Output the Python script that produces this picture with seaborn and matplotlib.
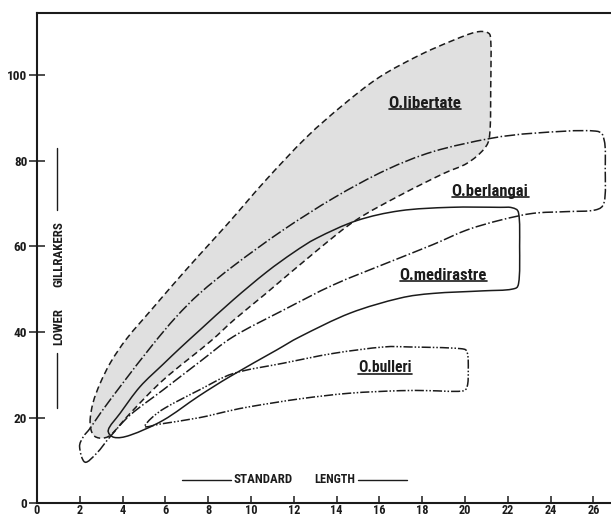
import numpy as np
import matplotlib
matplotlib.use("Agg")
import matplotlib.pyplot as plt
import seaborn as sns
from matplotlib import font_manager
from matplotlib.font_manager import FontProperties
from matplotlib.path import Path
from matplotlib.patches import PathPatch
from matplotlib.lines import Line2D
from matplotlib.transforms import IdentityTransform

# ---- axis ticks -------------------------------------------------------
x_ticks = list(range(0, 27, 2))
y_ticks = [0, 20, 40, 60, 80, 100]

# ---- envelope outlines (standard length, lower gillraker count) -------
libertate_x = [2.48, 2.62, 2.95, 3.45, 4.20, 5.40, 6.40, 7.50, 8.90, 10.70,
               12.60, 14.30, 16.00, 17.90, 19.40, 20.50, 21.05, 21.20, 21.20,
               21.15, 20.90, 20.10, 19.00, 17.00, 14.90, 13.10, 10.70, 9.20,
               8.10, 5.90, 4.35, 3.45, 3.00, 2.62]
libertate_y = [19.0, 23.5, 28.0, 33.0, 38.5, 45.5, 51.3, 57.5, 65.2, 75.5,
               85.5, 93.0, 99.5, 104.7, 108.0, 110.0, 109.9, 108.3, 97.0,
               86.0, 82.8, 79.4, 77.0, 72.0, 66.1, 59.1, 49.0, 42.8,
               37.8, 28.8, 21.0, 16.0, 15.2, 16.0]

berlangai_x = [2.24, 2.79, 3.41, 4.35, 5.90, 7.62, 9.17, 11.51, 13.85, 16.40,
               18.50, 20.08, 21.64, 23.18, 24.75, 26.10, 26.50, 26.55, 26.50,
               26.10, 23.20, 21.20, 18.50, 16.30, 13.90, 11.50, 9.20, 7.60,
               6.50, 5.40, 4.00, 3.00, 2.48, 2.16, 1.99]
berlangai_y = [9.6, 11.7, 15.5, 20.6, 26.5, 33.1, 38.9, 45.1, 51.0, 56.2,
               60.4, 63.8, 66.1, 67.7, 68.1, 68.5, 70.3, 78.0, 84.8,
               86.9, 86.4, 85.2, 82.1, 77.8, 71.4, 63.8, 55.5, 49.0,
               43.5, 37.0, 28.0, 21.3, 17.5, 15.5, 13.2]

medirastre_x = [3.33, 3.60, 4.35, 5.90, 7.55, 9.02, 11.20, 12.29, 14.63, 16.96,
                18.50, 20.84, 22.20, 22.50, 22.55, 22.50, 22.20, 21.64, 19.30,
                16.96, 14.94, 13.07, 12.00, 10.73, 9.17, 7.62, 6.70, 5.90,
                4.81, 3.88]
medirastre_y = [17.1, 15.4, 15.9, 19.4, 25.0, 29.6, 35.8, 38.9, 44.4, 47.9,
                49.0, 49.6, 50.0, 51.3, 60.0, 67.8, 69.0, 69.1, 69.1,
                68.3, 66.0, 61.9, 58.6, 54.0, 47.5, 40.5, 36.3, 32.5,
                27.2, 21.0]

bulleri_x = [5.05, 5.75, 7.60, 9.00, 10.00, 12.30, 14.60, 17.00, 18.30, 19.85,
             20.10, 20.15, 20.10, 19.80, 17.40, 16.20, 13.85, 11.50, 9.17,
             7.60, 6.00, 5.35]
bulleri_y = [17.9, 18.5, 20.0, 21.6, 22.6, 24.4, 25.7, 26.3, 26.3, 26.2,
             27.3, 31.0, 35.2, 36.1, 36.5, 36.5, 35.0, 32.7, 30.3,
             26.5, 22.3, 19.9]

# ---- species names and where they sit ---------------------------------
species = ["O.libertate", "O.berlangai", "O.medirastre", "O.bulleri"]
label_x = [18.13, 21.17, 18.99, 16.26]
label_y = [93.4, 72.8, 53.3, 31.6]
label_width_px = [73, 77, 87, 54]

INK = "#1b1b1b"
styles = {
    "O.libertate": dict(ls=(0, (4.2, 2.4)), fill="#e0e0e0"),
    "O.berlangai": dict(ls=(0, (7.0, 1.6, 1.0, 1.6)), fill=None),
    "O.medirastre": dict(ls="-", fill=None),
    "O.bulleri": dict(ls=(0, (6.0, 1.3, 1.0, 1.3, 1.0, 1.3)), fill=None),
}
outlines = {
    "O.libertate": (libertate_x, libertate_y),
    "O.berlangai": (berlangai_x, berlangai_y),
    "O.medirastre": (medirastre_x, medirastre_y),
    "O.bulleri": (bulleri_x, bulleri_y),
}


def closed_smooth_path(ax, xs, ys):
    """Closed cubic-Bezier path through the given vertices (Catmull-Rom style)."""
    P = np.column_stack([xs, ys]).astype(float)
    n = len(P)
    D = ax.transData.transform(P)
    dt = np.sqrt(np.linalg.norm(np.roll(D, -1, axis=0) - D, axis=1)) + 1e-9
    verts = [P[0]]
    codes = [Path.MOVETO]
    for i in range(n):
        i0, i1, i2, i3 = (i - 1) % n, i, (i + 1) % n, (i + 2) % n
        m1 = (P[i2] - P[i0]) / (dt[i0] + dt[i1])
        m2 = (P[i3] - P[i1]) / (dt[i1] + dt[i2])
        verts += [P[i1] + m1 * dt[i1] / 3.0, P[i2] - m2 * dt[i1] / 3.0, P[i2]]
        codes += [Path.CURVE4] * 3
    return Path(verts, codes)


def pick_lettering():
    """Prefer a narrow face for the stencil-style lettering."""
    for fam in ["Roboto Condensed", "Liberation Sans Narrow",
                "Open Sans Condensed", "Noto Sans Condensed", "Arial Narrow"]:
        try:
            font_manager.findfont(FontProperties(family=fam, weight="bold"),
                                  fallback_to_default=False)
            return [fam, "DejaVu Sans"], "normal"
        except ValueError:
            pass
    path = font_manager.findfont(FontProperties(family="DejaVu Sans",
                                                stretch="condensed",
                                                weight="bold"))
    if "Condensed" in path:
        return ["DejaVu Sans"], "condensed"
    return ["DejaVu Sans"], "normal"


sns.set_theme(style="ticks")
FAMILY, STRETCH = pick_lettering()
plt.rcParams["font.family"] = FAMILY
plt.rcParams["font.stretch"] = STRETCH

fig = plt.figure(figsize=(6.11, 5.20), dpi=100)
fig.patch.set_facecolor("white")
ax = fig.add_axes([37 / 611, 16.7 / 520, 1 - 37 / 611, 490 / 520])
ax.set_facecolor("white")
ax.set_xlim(0, 26.82)
ax.set_ylim(0, 114.4)

for name in species:
    xs, ys = outlines[name]
    st = styles[name]
    path = closed_smooth_path(ax, xs, ys)
    if st["fill"]:
        ax.add_patch(PathPatch(path, facecolor=st["fill"], edgecolor="none",
                               lw=0, zorder=1))
    ax.add_patch(PathPatch(path, facecolor="none", edgecolor=INK, lw=1.1,
                           linestyle=st["ls"], zorder=3))

fitted = []  # (text, target length in px, vertical?)
name_texts = []
for name, lx, ly, w in zip(species, label_x, label_y, label_width_px):
    t = ax.text(lx, ly, name, ha="center", va="center", fontsize=10,
                fontweight="bold", color=INK, zorder=4)
    name_texts.append(t)
    fitted.append((t, w, False))

# axis titles, drawn inside the frame with bars on each side
axis_font = dict(fontsize=8, fontweight="bold", color=INK)
fitted.append((ax.text(10.58, 5.44, "STANDARD", ha="center", va="center",
                       **axis_font), 59, False))
fitted.append((ax.text(13.90, 5.44, "LENGTH", ha="center", va="center",
                       **axis_font), 41, False))
fitted.append((ax.text(1.0, 58.2, "GILLRAKERS", rotation=90, ha="center",
                       va="center", **axis_font), 65, True))
fitted.append((ax.text(1.0, 41.3, "LOWER", rotation=90, ha="center",
                       va="center", **axis_font), 37, True))
ax.plot([6.77, 9.06], [5.44, 5.44], color=INK, lw=1.0)
ax.plot([15.0, 17.3], [5.44, 5.44], color=INK, lw=1.0)
ax.plot([0.95, 0.95], [68.5, 82.9], color=INK, lw=1.0)
ax.plot([0.95, 0.95], [22.2, 35.0], color=INK, lw=1.0)

ax.set_xticks(x_ticks)
ax.set_yticks(y_ticks)
ax.set_xticklabels([str(v) for v in x_ticks])
ax.set_yticklabels([str(v) for v in y_ticks])
ax.tick_params(axis="y", direction="inout", length=11, width=1.1, pad=1.5,
               labelsize=9.5, colors=INK)
ax.tick_params(axis="x", direction="in", length=4.8, width=1.1, pad=0.3,
               labelsize=8.8, colors=INK)
for lab in ax.get_xticklabels() + ax.get_yticklabels():
    lab.set_fontweight("bold")

for side in ("left", "bottom", "top"):
    ax.spines[side].set_linewidth(1.5)
    ax.spines[side].set_color(INK)
ax.spines["right"].set_visible(False)
ax.grid(False)

# size the lettering to the drawn lengths
fig.canvas.draw()
renderer = fig.canvas.get_renderer()
for t, target, vertical in fitted:
    for _ in range(2):
        bb = t.get_window_extent(renderer)
        cur = bb.height if vertical else bb.width
        t.set_fontsize(t.get_fontsize() * target / cur)

# underline the species names
fig.canvas.draw()
for t in name_texts:
    bb = t.get_window_extent()
    fig.add_artist(Line2D([bb.x0, bb.x1], [bb.y0 + 1.5, bb.y0 + 1.5],
                          transform=IdentityTransform(), color=INK, lw=1.2))

fig.savefig("out.png", dpi=100, facecolor="white")
